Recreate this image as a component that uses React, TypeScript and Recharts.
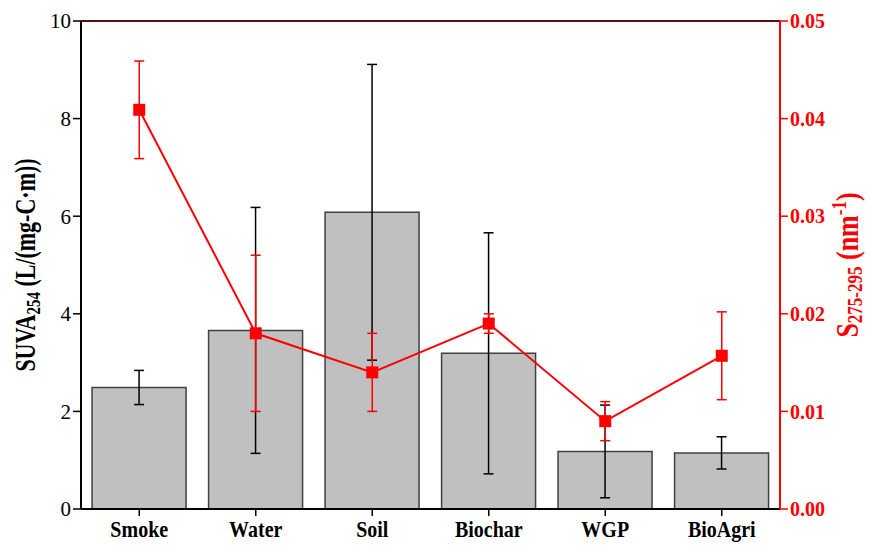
import React from 'react';
import { ComposedChart, Bar, Line, XAxis, YAxis, ErrorBar, ReferenceLine, Label } from 'recharts';

const categories = ['Smoke', 'Water', 'Soil', 'Biochar', 'WGP', 'BioAgri'];
const suva = [2.49, 3.66, 6.08, 3.19, 1.18, 1.15];
const suvaErr = [0.35, 2.52, 3.03, 2.47, 0.95, 0.33];
const slope = [0.0409, 0.018, 0.014, 0.019, 0.009, 0.0157];
const slopeErr = [0.005, 0.008, 0.004, 0.001, 0.002, 0.0045];

const leftTicks = [0, 2, 4, 6, 8, 10];
const rightTicks = [0, 0.01, 0.02, 0.03, 0.04, 0.05];

const data = categories.map((name, i) => ({
  name,
  suva: suva[i],
  suvaErr: suvaErr[i],
  slope: slope[i],
  slopeErr: slopeErr[i],
}));

const SERIF = '"Liberation Serif", "Times New Roman", serif';
const RED = '#ff0000';

const SquareDot = (props: any) => {
  const { cx, cy, index } = props;
  if (cx == null || cy == null) return null;
  return <rect key={`sq-${index}`} x={cx - 6} y={cy - 6} width={12} height={12} fill={RED} />;
};

// category names, slightly taller glyphs
const CategoryTick = (props: any) => {
  const { x, y, payload } = props;
  return (
    <text
      transform={`translate(${x}, ${y + 19}) scale(1, 1.15)`}
      textAnchor="middle"
      fontFamily={SERIF}
      fontWeight="bold"
      fontSize={20}
      fill="#000"
    >
      {payload.value}
    </text>
  );
};

// rotated axis titles, glyphs stretched a bit like the Origin export
const LeftTitle = (props: any) => {
  const vb = props.viewBox || { x: 0, y: 21, width: 81, height: 488 };
  const bx = vb.x + 35;
  const by = vb.y + vb.height / 2;
  return (
    <text
      transform={`translate(${bx}, ${by}) rotate(-90) scale(1, 1.3)`}
      textAnchor="middle"
      fontFamily={SERIF}
      fontWeight="bold"
      fontSize={22}
      fill="#000"
    >
      SUVA<tspan fontSize={15} dy={4}>254</tspan>
      <tspan dy={-4}> (L/(mg-C·m))</tspan>
    </text>
  );
};

const RightTitle = (props: any) => {
  const vb = props.viewBox || { x: 780, y: 21, width: 90, height: 488 };
  const bx = vb.x + 78;
  const by = vb.y + vb.height / 2;
  return (
    <text
      transform={`translate(${bx}, ${by}) rotate(-90) scale(1, 1.25)`}
      textAnchor="middle"
      fontFamily={SERIF}
      fontWeight="bold"
      fontSize={26}
      fill={RED}
    >
      S<tspan fontSize={17} dy={3}>275-295</tspan>
      <tspan dy={-3}> (nm</tspan>
      <tspan fontSize={17} dy={-10}>-1</tspan>
      <tspan dy={10}>)</tspan>
    </text>
  );
};

export default function App() {
  return (
    <div style={{ position: 'absolute', left: 0, top: 0, background: '#fff' }}>
      <ComposedChart
        width={870}
        height={546}
        data={data}
        margin={{ top: 21, right: 0, left: 0, bottom: 0 }}
        barCategoryGap="9.5%"
      >
        <XAxis
          dataKey="name"
          height={37}
          axisLine={{ stroke: '#000', strokeWidth: 2 }}
          tickLine={{ stroke: '#000', strokeWidth: 1.5 }}
          tickSize={7}
          tick={CategoryTick}
          interval={0}
        />
        <YAxis
          yAxisId="left"
          width={81}
          domain={[0, 10]}
          ticks={leftTicks}
          axisLine={{ stroke: '#000', strokeWidth: 2 }}
          tickLine={{ stroke: '#000', strokeWidth: 1.5 }}
          tickSize={8}
          tick={{ fill: '#000', fontSize: 21, fontFamily: SERIF }}
        >
          <Label content={LeftTitle} />
        </YAxis>
        <YAxis
          yAxisId="right"
          orientation="right"
          width={90}
          domain={[0, 0.05]}
          ticks={rightTicks}
          tickFormatter={(v: number) => v.toFixed(2)}
          axisLine={{ stroke: RED, strokeWidth: 2 }}
          tickLine={{ stroke: RED, strokeWidth: 1.5 }}
          tickSize={8}
          tick={{ fill: RED, fontSize: 20, fontWeight: 'bold', fontFamily: SERIF }}
        >
          <Label content={RightTitle} />
        </YAxis>
        <ReferenceLine yAxisId="left" y={10} stroke="#5a1010" strokeWidth={2} />
        <Bar
          yAxisId="left"
          dataKey="suva"
          fill="#c0c0c0"
          stroke="#404040"
          strokeWidth={1.5}
          isAnimationActive={false}
        >
          <ErrorBar dataKey="suvaErr" width={5} stroke="#000" strokeWidth={1.5} />
        </Bar>
        <Line
          yAxisId="right"
          dataKey="slope"
          stroke={RED}
          strokeWidth={2}
          dot={SquareDot}
          activeDot={false}
          isAnimationActive={false}
        >
          <ErrorBar dataKey="slopeErr" width={5} stroke={RED} strokeWidth={1.5} />
        </Line>
      </ComposedChart>
    </div>
  );
}
